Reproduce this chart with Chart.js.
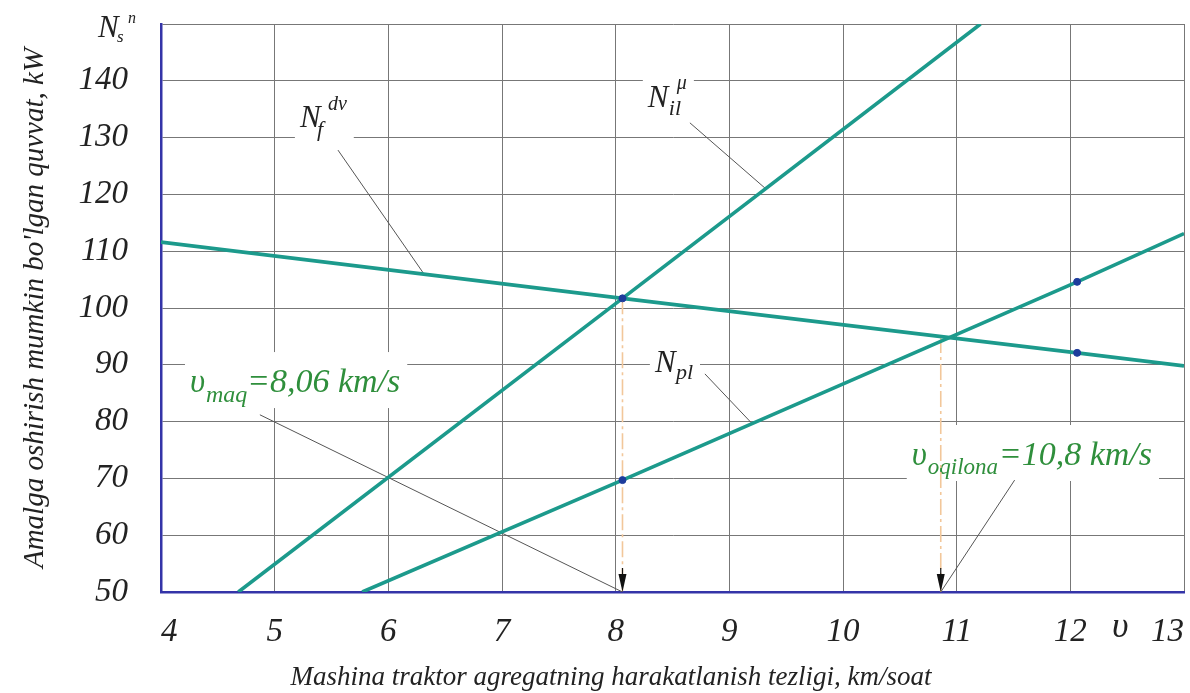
<!DOCTYPE html>
<html>
<head>
<meta charset="utf-8">
<title>Quvvat grafigi</title>
<style>
  html, body { margin: 0; padding: 0; background: #fff; }
</style>
</head>
<body>
<canvas id="chart" width="1190" height="693"></canvas>

<script src="https://cdn.jsdelivr.net/npm/chart.js"></script>
<script>
    // tick labels
    const xTicks = [4, 5, 6, 7, 8, 9, 10, 11, 12, 13];
    const yTicks = [50, 60, 70, 80, 90, 100, 110, 120, 130, 140, 150];

    // N_f^dv line
    const nfX = [4, 8.06, 12.06, 13];
    const nfY = [111.6, 101.7, 92.1, 89.8];
    // N_il^mu line
    const nilX = [4.68, 8.06, 11.21];
    const nilY = [50, 101.7, 150];
    // N_pl line
    const nplX = [5.77, 8.06, 12.06, 13];
    const nplY = [50, 69.7, 104.6, 113.1];
    // marked points
    const markX = [8.06, 8.06, 12.06, 12.06];
    const markY = [101.7, 69.7, 104.6, 92.1];
    const speedX = [8.06, 10.86];
    const speedY = [101.7, 94.9];

    const FONT = "'Liberation Serif', 'DejaVu Serif', serif";
    const TEAL = '#1c9a8c';
    const GREEN = '#2f8f3c';
    const AXIS_BLUE = '#3434a8';

    function pts(xs, ys) {
        return xs.map((x, i) => ({ x: x, y: ys[i] }));
    }

    function lineSet(data, color, width, dash) {
        return {
            type: 'line',
            data: data,
            borderColor: color,
            borderWidth: width,
            borderDash: dash || [],
            pointRadius: 0,
            fill: false,
            tension: 0
        };
    }

    // leader lines from the text labels to the curves
    const leaders = [
        [[5.557, 127.8], [6.32, 105.8]],
        [[8.653, 132.6], [9.32, 121.0]],
        [[8.785, 88.4], [9.2, 79.65]],
        [[4.87, 81.2], [speedX[0], 50]],
        [[11.51, 69.7], [speedX[1], 50]]
    ];

    // text labels: anchor (data coords, left of first glyph, baseline) + parts
    const labels = [
        { x: 5.222, y: 131.9, color: '#222', parts: [
            { t: 'N', size: 31, dx: 0, dy: 0 },
            { t: 'f', size: 22, dx: 17, dy: 9 },
            { t: 'dv', size: 20, dx: 28, dy: -17 }] },
        { x: 8.283, y: 135.4, color: '#222', parts: [
            { t: 'N', size: 31, dx: 0, dy: 0 },
            { t: 'il', size: 22, dx: 21, dy: 8 },
            { t: 'μ', size: 20, dx: 29, dy: -18 }] },
        { x: 8.345, y: 88.7, color: '#222', parts: [
            { t: 'N', size: 31, dx: 0, dy: 0 },
            { t: 'pl', size: 22, dx: 21, dy: 7 }] },
        { x: 4.255, y: 85.2, color: GREEN, parts: [
            { t: 'υ', size: 33, dx: 0, dy: 0 },
            { t: 'maq', size: 24, dx: 16, dy: 10 },
            { t: '=8,06 km/s', size: 34, dx: 57, dy: 0 }] },
        { x: 10.605, y: 72.36, color: GREEN, parts: [
            { t: 'υ', size: 33, dx: 0, dy: 0 },
            { t: 'oqilona', size: 23, dx: 16, dy: 9 },
            { t: '=10,8 km/s', size: 34, dx: 87, dy: 0 }] }
    ];

    function drawParts(ctx, px, py, parts, color) {
        ctx.save();
        ctx.fillStyle = color;
        ctx.textAlign = 'left';
        ctx.textBaseline = 'alphabetic';
        parts.forEach(p => {
            ctx.font = 'italic ' + p.size + 'px ' + FONT;
            ctx.fillText(p.t, px + p.dx, py + p.dy);
        });
        ctx.restore();
    }

    function measureParts(ctx, px, parts) {
        let maxX = px;
        ctx.save();
        parts.forEach(p => {
            ctx.font = 'italic ' + p.size + 'px ' + FONT;
            maxX = Math.max(maxX, px + p.dx + ctx.measureText(p.t).width);
        });
        ctx.restore();
        return maxX;
    }

    const annot = {
        id: 'annot',
        beforeDatasetsDraw(chart) {
            const ctx = chart.ctx;
            const xs = chart.scales.x, ys = chart.scales.y;
            labels.forEach(l => {
                const px = xs.getPixelForValue(l.x);
                const py = ys.getPixelForValue(l.y);
                const right = measureParts(ctx, px, l.parts);
                ctx.save();
                ctx.fillStyle = '#fff';
                ctx.fillRect(px - 5, py - 40, right - px + 12, 56);
                ctx.restore();
                drawParts(ctx, px, py, l.parts, l.color);
            });
        },
        afterDatasetsDraw(chart) {
            const ctx = chart.ctx;
            const xs = chart.scales.x, ys = chart.scales.y;
            const yb = ys.getPixelForValue(50);
            speedX.forEach(v => {
                const px = xs.getPixelForValue(v);
                ctx.save();
                ctx.strokeStyle = '#111';
                ctx.lineWidth = 1.2;
                ctx.beginPath();
                ctx.moveTo(px, yb - 24);
                ctx.lineTo(px, yb - 16);
                ctx.stroke();
                ctx.fillStyle = '#111';
                ctx.beginPath();
                ctx.moveTo(px, yb);
                ctx.lineTo(px - 4, yb - 18);
                ctx.lineTo(px + 4, yb - 18);
                ctx.closePath();
                ctx.fill();
                ctx.restore();
            });
        },
        afterDraw(chart) {
            const ctx = chart.ctx;
            const area = chart.chartArea;
            const xs = chart.scales.x, ys = chart.scales.y;
            // N_s^n at the top of the value axis
            drawParts(ctx, area.left - 63, ys.getPixelForValue(150) + 13, [
                { t: 'N', size: 31, dx: 0, dy: 0 },
                { t: 's', size: 17, dx: 19, dy: 5 },
                { t: 'n', size: 16, dx: 30, dy: -14 }], '#222');
            // speed symbol between 12 and 13
            ctx.save();
            ctx.fillStyle = '#222';
            ctx.font = 'italic 36px ' + FONT;
            ctx.textAlign = 'center';
            ctx.textBaseline = 'alphabetic';
            ctx.fillText('υ', (xs.getPixelForValue(12) + xs.getPixelForValue(13)) / 2 - 7, area.bottom + 45);
            // x axis title
            ctx.font = 'italic 27px ' + FONT;
            ctx.textBaseline = 'middle';
            ctx.fillText('Mashina traktor agregatning harakatlanish tezligi, km/soat', 611, 678);
            ctx.restore();
        }
    };

    const datasets = [
        {
            type: 'scatter',
            data: pts(markX, markY),
            backgroundColor: '#1d3c9c',
            borderColor: '#1d3c9c',
            pointRadius: 3.5,
            showLine: false
        },
        lineSet(pts(nfX, nfY), TEAL, 3.6),
        lineSet(pts(nilX, nilY), TEAL, 3.6),
        lineSet(pts(nplX, nplY), TEAL, 3.6)
    ];
    leaders.forEach(l => {
        datasets.push(lineSet(pts([l[0][0], l[1][0]], [l[0][1], l[1][1]]), '#555', 1));
    });
    speedX.forEach((v, i) => {
        datasets.push(lineSet(pts([v, v], [speedY[i], 50]), '#f2c79a', 1.6, [16, 4, 3, 4]));
    });

    new Chart(document.getElementById('chart'), {
        type: 'scatter',
        data: { datasets: datasets },
        options: {
            responsive: false,
            animation: false,
            layout: { padding: { top: 24, right: 6, left: 0, bottom: 0 } },
            plugins: {
                legend: { display: false },
                tooltip: { enabled: false }
            },
            scales: {
                x: {
                    type: 'linear',
                    min: 4,
                    max: 13,
                    afterBuildTicks: s => { s.ticks = xTicks.map(v => ({ value: v })); },
                    afterFit: s => {
                        s.height = 101;
                        s.paddingLeft = 0;
                        s.paddingRight = 0;
                    },
                    grid: { color: '#777', lineWidth: 1, drawTicks: false },
                    border: { color: AXIS_BLUE, width: 2.5 },
                    ticks: {
                        align: 'inner',
                        padding: 21,
                        color: '#222',
                        maxRotation: 0,
                        font: { family: FONT, style: 'italic', size: 33 }
                    }
                },
                y: {
                    min: 50,
                    max: 150,
                    afterBuildTicks: s => { s.ticks = yTicks.map(v => ({ value: v })); },
                    afterFit: s => {
                        s.width = 161;
                        s.paddingTop = 0;
                        s.paddingBottom = 0;
                    },
                    grid: { color: '#777', lineWidth: 1, drawTicks: false },
                    border: { color: AXIS_BLUE, width: 2.5 },
                    ticks: {
                        padding: 33,
                        color: '#222',
                        callback: v => v === 150 ? '' : v,
                        font: { family: FONT, style: 'italic', size: 33 }
                    },
                    title: {
                        display: true,
                        text: "Amalga oshirish mumkin bo'lgan quvvat, kW",
                        color: '#222',
                        padding: { top: 18, bottom: 0 },
                        font: { family: FONT, style: 'italic', size: 29 }
                    }
                }
            }
        },
        plugins: [annot]
    });
</script>
</body>
</html>
